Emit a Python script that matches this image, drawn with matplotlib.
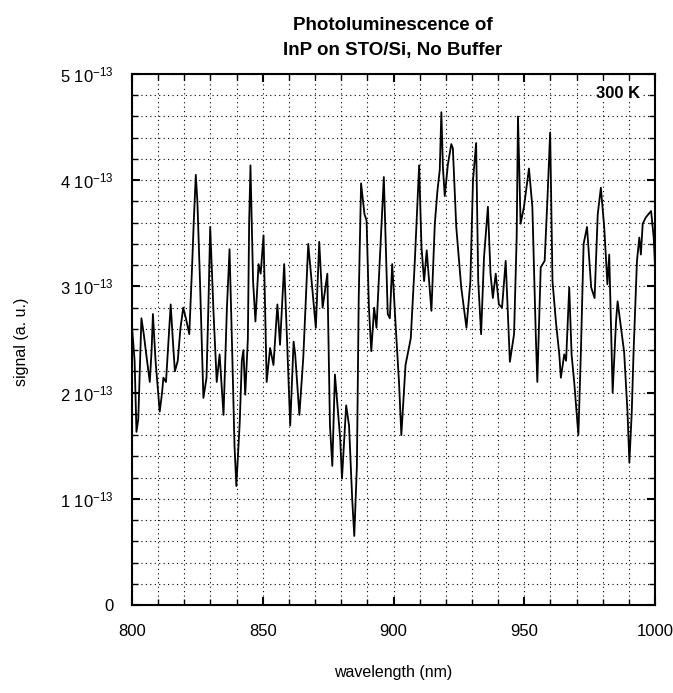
import matplotlib
matplotlib.use('Agg')
import matplotlib.pyplot as plt
import numpy as np
from matplotlib.ticker import MultipleLocator, FixedLocator

plt.rcParams['font.family'] = ['Liberation Sans', 'DejaVu Sans']
plt.rcParams['mathtext.default'] = 'regular'

# PL spectrum (signal in units of 1e-13)
wavelength = [800.0, 801.0, 801.7, 802.4, 803.6, 804.5, 805.5, 806.8, 807.5, 808.0,
              809.0, 810.6, 811.5, 812.0, 813.0, 814.0, 814.8, 815.6, 816.4, 817.5,
              818.5, 819.6, 820.6, 821.9, 823.0, 823.6, 824.4, 825.0, 826.0, 827.3,
              828.5, 829.3, 829.9, 831.2, 832.4, 833.5, 835.0, 836.3, 837.3, 838.3,
              839.2, 839.9, 840.5, 841.2, 842.0, 842.6, 843.3, 844.3, 844.8, 845.3,
              846.3, 847.2, 848.4, 849.2, 850.3, 851.5, 852.8, 854.1, 855.6, 856.6,
              858.2, 859.2, 860.5, 861.8, 862.4, 864.0, 865.5, 867.4, 868.7, 870.3,
              871.6, 872.9, 874.7, 875.7, 876.6, 877.6, 879.6, 880.3, 881.9, 883.0,
              884.2, 885.0, 886.0, 886.7, 887.6, 888.9, 889.7, 890.6, 891.5, 892.6,
              893.5, 895.0, 896.3, 897.8, 898.6, 899.5, 900.8, 902.1, 903.0, 904.6,
              906.6, 908.1, 909.8, 910.7, 911.7, 912.7, 914.5, 915.8, 916.8, 917.7,
              918.3, 918.9, 919.6, 920.8, 922.1, 922.7, 924.0, 925.9, 927.9, 929.4,
              930.4, 931.6, 932.4, 933.5, 934.6, 936.1, 937.1, 938.0, 939.1, 940.3,
              941.5, 942.9, 944.5, 946.1, 947.1, 947.6, 948.6, 949.9, 951.8, 953.1,
              954.4, 955.0, 956.3, 957.8, 958.9, 959.9, 960.8, 962.1, 963.4, 964.0,
              965.3, 966.0, 967.2, 968.1, 969.1, 970.7, 971.7, 972.7, 974.0, 975.6,
              976.9, 978.1, 979.3, 980.6, 981.8, 982.5, 983.8, 985.1, 985.7, 987.0,
              988.2, 989.5, 990.2, 991.1, 991.8, 993.1, 994.0, 994.6, 995.3, 996.5,
              998.5, 999.5, 1000.0]
signal = [2.62, 2.30, 1.63, 1.75, 2.70, 2.55, 2.35, 2.10, 2.40, 2.74,
          2.30, 1.82, 2.00, 2.14, 2.10, 2.50, 2.83, 2.50, 2.20, 2.30,
          2.60, 2.80, 2.70, 2.55, 3.20, 3.60, 4.05, 3.80, 3.05, 1.95,
          2.14, 2.90, 3.56, 2.74, 2.10, 2.36, 1.79, 2.80, 3.35, 2.40,
          1.50, 1.12, 1.40, 1.72, 2.30, 2.40, 1.98, 2.50, 3.60, 4.14,
          3.05, 2.67, 3.21, 3.12, 3.48, 2.10, 2.42, 2.26, 2.83, 2.45,
          3.21, 2.55, 1.69, 2.48, 2.36, 1.79, 2.33, 3.40, 3.05, 2.61,
          3.42, 2.80, 3.12, 1.69, 1.31, 2.17, 1.57, 1.19, 1.88, 1.69,
          1.00, 0.65, 1.31, 2.89, 3.97, 3.68, 3.62, 2.80, 2.39, 2.80,
          2.61, 3.37, 4.03, 2.74, 2.70, 3.21, 2.64, 2.10, 1.60, 2.26,
          2.51, 3.21, 4.14, 3.37, 3.05, 3.34, 2.77, 3.59, 3.90, 4.10,
          4.64, 4.12, 3.85, 4.15, 4.34, 4.30, 3.56, 2.99, 2.61, 3.05,
          4.00, 4.35, 3.05, 2.55, 3.27, 3.75, 3.12, 2.89, 3.12, 2.83,
          2.80, 3.24, 2.29, 2.55, 3.46, 4.60, 3.59, 3.75, 4.11, 3.75,
          2.55, 2.10, 3.18, 3.24, 3.84, 4.45, 3.05, 2.67, 2.36, 2.14,
          2.36, 2.30, 2.99, 2.36, 2.10, 1.60, 2.42, 3.40, 3.56, 2.99,
          2.89, 3.68, 3.93, 3.55, 3.02, 3.30, 2.00, 2.67, 2.86, 2.61,
          2.38, 1.81, 1.34, 1.81, 2.38, 3.24, 3.46, 3.30, 3.59, 3.65,
          3.71, 3.46, 3.20]

ytick_vals = [0, 1, 2, 3, 4, 5]
ytick_labels = ['0'] + ['%d 10$^{-13}$' % v for v in ytick_vals[1:]]
xtick_vals = [800, 850, 900, 950, 1000]

fig = plt.figure(figsize=(6.73, 6.93), dpi=100)
ax = fig.add_axes([132/673, 1 - 605/693, (655-132)/673, (605-74)/693])

ax.plot(wavelength, np.array(signal) * 1e-13, color='black', lw=1.3)

ax.set_xlim(800, 1000)
ax.set_ylim(0, 5e-13)
ax.xaxis.set_major_locator(FixedLocator(xtick_vals))
ax.xaxis.set_minor_locator(MultipleLocator(10))
ax.yaxis.set_major_locator(FixedLocator([v * 1e-13 for v in ytick_vals]))
ax.yaxis.set_minor_locator(MultipleLocator(0.2e-13))
ax.set_xticklabels([str(v) for v in xtick_vals])
ax.set_yticklabels(ytick_labels)

ax.grid(True, which='both', color='black', linestyle=(0, (1, 3)), lw=0.8)
ax.tick_params(which='both', direction='in', top=True, right=True, labelsize=12)
ax.tick_params(which='major', length=6, width=1.5)
ax.tick_params(which='minor', length=4, width=1)
ax.tick_params(axis='x', pad=14)
ax.tick_params(axis='y', pad=13)
for s in ax.spines.values():
    s.set_linewidth(1.5)

ax.text(986, 4.82e-13, '300 K', fontsize=12, fontweight='bold', ha='center', va='center',
        bbox=dict(facecolor='white', edgecolor='none', pad=1))

fig.text(393/673, 1 - 26/693, 'Photoluminescence of', fontsize=13.5, fontweight='bold',
         ha='center', va='center')
fig.text(393/673, 1 - 50/693, 'InP on STO/Si, No Buffer', fontsize=13.5, fontweight='bold',
         ha='center', va='center')
fig.text(22/673, 1 - 342/693, 'signal (a. u.)', fontsize=11.5, rotation=90, ha='center', va='center')
fig.text(393/673, 1 - 673/693, 'wavelength (nm)', fontsize=11.5, ha='center', va='center')

fig.savefig('out.png', dpi=100)
